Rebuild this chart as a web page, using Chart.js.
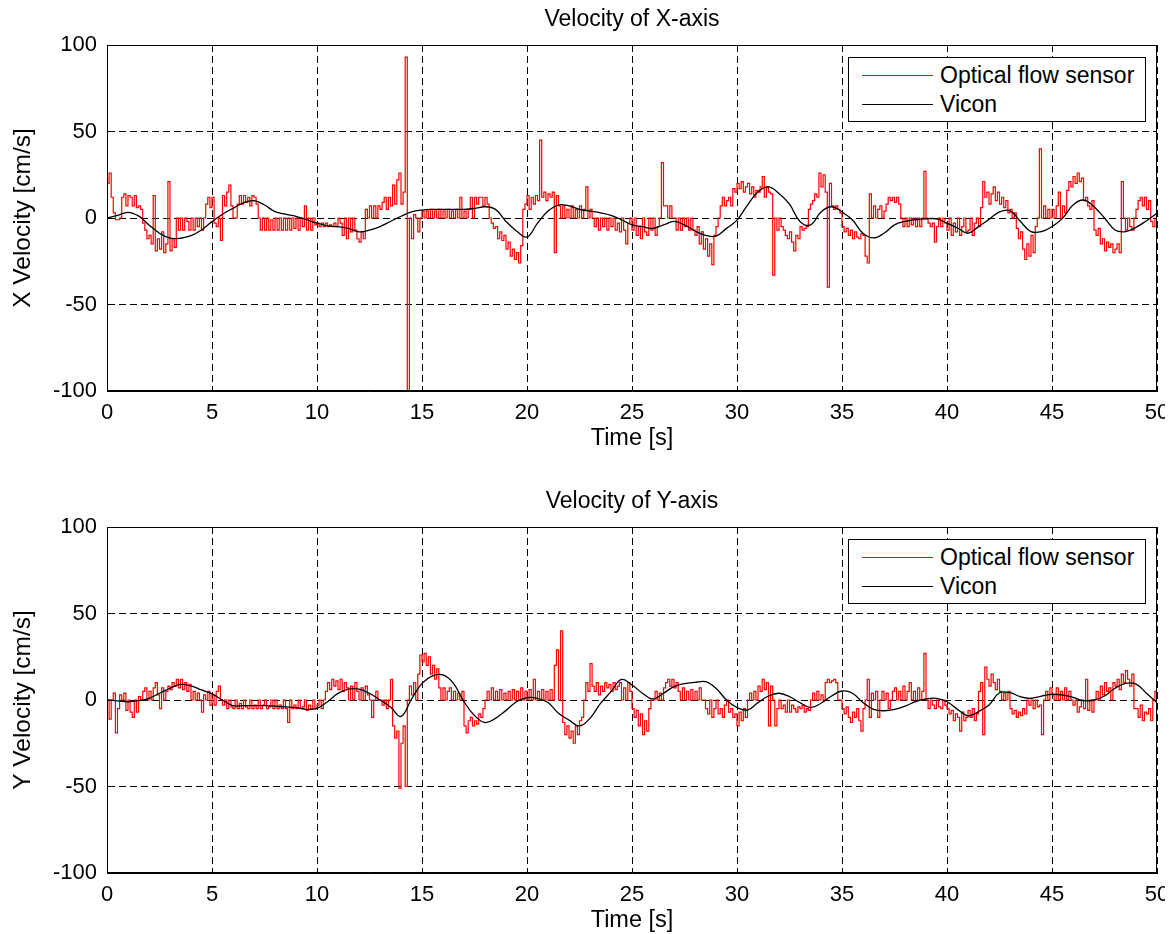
<!DOCTYPE html>
<html><head><meta charset="utf-8">
<script src="https://cdn.jsdelivr.net/npm/chart.js@4.4.0/dist/chart.umd.min.js"></script>
<style>
html,body{margin:0;padding:0;background:#fff;overflow:hidden;width:1174px;height:934px;position:relative}
canvas{position:absolute;left:0}
.ttl{position:absolute;left:332px;width:600px;text-align:center;line-height:26px;font-family:"Liberation Sans",Arial,Helvetica,sans-serif;font-size:23px;color:#000;white-space:nowrap}
.leg{position:absolute;box-sizing:border-box;border:1px solid #000;background:#fff;width:298px;height:65px;font-family:"Liberation Sans",Arial,Helvetica,sans-serif;font-size:23px;color:#000}
.leg .ln{position:absolute;left:13px;width:71px;height:0}
.leg .tx{position:absolute;left:91px;line-height:26px;white-space:nowrap}
</style></head><body>
<canvas id="cx" width="1165" height="482" style="top:0"></canvas>
<canvas id="cy" width="1165" height="482" style="top:482px"></canvas>
<div class="ttl" style="top:5px">Velocity of X-axis</div>
<div class="ttl" style="top:487px">Velocity of Y-axis</div>
<div class="leg" style="left:848px;top:57px">
 <div class="ln" style="top:17px;border-top:1px solid #ff0000"></div><div class="tx" style="top:4px">Optical flow sensor</div>
 <div class="ln" style="top:46px;border-top:1px solid #000"></div><div class="tx" style="top:33px">Vicon</div>
</div>
<div class="leg" style="left:848px;top:539px">
 <div class="ln" style="top:17px;border-top:1px solid #ff0000"></div><div class="tx" style="top:4px">Optical flow sensor</div>
 <div class="ln" style="top:46px;border-top:1px solid #000"></div><div class="tx" style="top:33px">Vicon</div>
</div>
<script>
// sample periods [s]
const dtRed = 0.1;
const dtVicon = 0.5;
const xTicks = [0,5,10,15,20,25,30,35,40,45,50];
const yTicks = [-100,-50,0,50,100];

// X axis: optical flow sensor (every 0.1 s)
const redX = [
20,26,12,3,-1,-1,0,12,14,7,
13,12,7,13,6,7,5,-3,-7,-12,
-10,-15,13,-19,-12,-18,-8,-20,-15,21,
-19,-12,-17,0,-7,0,-7,0,-2,-7,
0,-7,0,-5,0,-7,0,8,12,6,
12,-3,-5,0,-13,13,7,15,19,7,
0,0,8,13,8,13,9,12,7,13,
12,8,0,-7,0,-7,0,-7,-1,-7,
0,-7,0,-7,0,-7,0,-7,0,-6,
0,-7,0,-5,7,-7,0,-7,0,-4,
-3,-5,-3,-5,-3,-5,-4,-5,-3,-5,
0,-3,-10,0,-12,0,-8,0,-7,-12,
-14,-8,-12,5,0,7,0,7,0,7,
5,9,12,5,12,7,19,8,22,26,
8,15,93,-100,0,-12,2,0,-8,0,
4,0,4,0,5,0,4,0,5,0,
4,0,5,0,4,0,5,0,12,0,
4,0,5,12,0,12,8,12,12,7,
12,8,0,-3,-6,-5,-12,-8,-13,-10,
-18,-14,-22,-18,-24,-20,-26,-16,5,8,
13,5,12,8,13,10,45,12,15,10,
14,12,15,-20,13,7,0,7,0,5,
0,7,0,5,0,7,0,5,18,0,
5,0,-5,0,-7,0,-5,0,-7,0,
-5,0,-7,-3,-8,0,-7,-15,-3,0,
-7,0,-10,-5,-12,0,-8,-10,0,-7,
0,-10,-5,0,32,7,7,0,7,0,
0,-7,0,-7,0,-5,0,-7,0,-7,
-10,-5,-15,-8,-18,-12,-22,-15,-27,-10,
-5,0,7,12,7,10,12,7,17,15,
20,17,21,15,18,20,14,18,12,16,
15,18,24,12,18,15,14,-33,0,-7,
0,-5,-7,-10,-12,-8,-14,-19,-10,-12,
-5,-7,-6,-5,5,8,10,14,12,26,
18,25,15,-40,20,7,5,7,5,3,
-5,-8,-6,-10,-7,-12,-8,-11,-12,-9,
-10,-22,-26,14,0,7,0,5,7,0,
4,8,12,10,12,9,12,8,0,-5,
0,-5,0,-4,0,-5,0,-5,0,27,
0,-3,-5,-3,-14,-5,0,-5,0,-3,
-7,0,-10,-3,-8,0,-10,-5,0,-8,
-7,0,-10,-3,0,-5,6,21,12,15,
8,14,18,10,15,8,12,6,10,3,
5,0,3,-6,-12,-8,-18,-24,-15,-22,
-10,-20,-5,0,40,0,7,0,5,0,
5,0,7,15,0,7,3,16,21,18,
24,20,26,21,23,10,12,7,5,10,
-7,-10,-6,-15,-12,-19,-14,-17,-15,-20,
-18,-15,-20,21,0,-7,0,-5,-7,0,
5,10,12,7,12,5,10,-2,-5,0,
-5];

// X axis: Vicon (every 0.5 s)
const viconX = [
0,1.5,3.3,1.2,-4,-8.8,-11.7,-11.7,-10.2,-6.9,
-2.1,2.2,5.6,8.8,10,7.5,3.7,2.2,1,-1,
-3,-4.5,-5,-6,-8,-7,-5,-2,1,3.5,
4.6,5,5,5,5,5.5,6.5,5,-2,-7.5,
-11,-3,4,7.5,7,5,4,3,1.5,-1,
-4,-5,-6,-4,-2,-4,-7.5,-10,-10.5,-6,
-1.2,7.5,15.2,18,14.2,8,-2,-4,3.5,6.5,
3.5,-1.2,-8.8,-11.5,-8.8,-4,-2,-1,-0.5,-0.5,
-3,-5.8,-8.8,-5,-0.8,3.5,4.2,-2,-7.9,-7.9,
-5,-0.2,7.5,10.4,6.5,0,-6.9,-7.9,-5.4,-1.6,
2.7];

// Y axis: optical flow sensor (every 0.1 s)
const redY = [
0,-11,0,4,-19,-5,3,0,4,-6,
0,-7,-10,0,-7,2,0,5,7,0,
5,0,7,10,3,-5,7,0,5,8,
6,10,8,12,7,12,6,10,5,9,
0,5,0,4,0,-7,3,0,5,-3,
3,-3,5,8,0,-3,0,-5,0,-4,
-5,0,-5,-2,-5,0,-4,-5,0,-5,
-3,-5,0,-5,-3,0,-5,-4,0,-5,
0,-5,-3,-5,0,-5,-13,0,-5,-3,
-5,0,-5,-4,0,-6,-3,-5,0,-5,
-3,0,-5,0,5,10,6,12,8,11,
6,12,5,10,7,0,8,0,10,5,
0,7,0,8,3,0,-10,0,5,0,
0,-3,0,-5,0,12,-15,-22,-18,-51,
-25,-15,-50,0,8,3,10,0,15,26,
22,27,20,25,15,20,12,18,7,0,
7,0,5,7,0,5,0,4,0,5,
-15,-19,-12,-10,-15,-12,-14,-8,-10,-5,
0,5,0,7,0,5,0,6,0,4,
0,5,0,6,0,5,0,7,0,5,
0,6,0,12,0,5,0,6,0,5,
0,6,0,20,29,0,40,-13,-20,-15,
-22,-18,-25,-15,-20,-12,-10,0,10,5,
21,8,5,10,3,8,5,10,7,9,
5,10,6,8,10,0,7,0,10,5,
-5,-10,-6,-15,-8,-20,-12,-18,-5,0,
0,5,0,4,0,7,10,12,8,12,
7,10,5,0,7,0,5,0,6,0,
5,0,7,0,0,-5,-8,0,-10,-5,
0,-8,-5,-10,-3,0,-7,-5,-10,-8,
-15,-7,-12,-5,-10,0,4,0,5,0,
8,5,12,6,10,-15,8,0,-15,-5,
0,-5,-3,-7,0,-7,-3,-5,-7,-4,
-5,-3,-7,-5,-6,0,4,0,5,0,
3,0,10,12,10,11,12,10,0,0,
-5,-8,-4,-10,-13,-7,-10,-5,-12,-18,
-5,0,12,-10,4,0,5,-10,0,5,
0,4,-5,0,5,7,0,5,0,8,
0,5,10,0,5,0,7,0,5,27,
0,-5,0,-3,-5,0,-4,-5,0,-3,
-5,-8,-6,-12,-8,-10,-18,-7,-12,-10,
-6,-10,-5,-12,-8,5,10,-20,19,12,
8,15,10,6,12,5,0,4,0,5,
-5,-8,-6,-10,-7,-9,-5,-8,0,-3,
0,-5,0,-4,-3,-20,0,5,0,7,
3,0,7,0,5,0,7,0,5,0,
-3,0,-7,-4,0,-5,12,-6,0,-7,
0,5,0,8,3,10,5,7,0,10,
8,12,6,15,10,17,12,8,15,-5,
-5,-10,-3,-12,-7,-8,-5,-12,0,5,
0];

// Y axis: Vicon (every 0.5 s)
const viconY = [
0,-0.5,-1,-0.4,1,3.9,6.8,9,8.1,5.8,
3.5,0,-3.3,-3.3,-3.3,-3.3,-3.5,-4,-4.4,-5.4,
-4.8,-1,3.8,6.3,6.3,3.8,0,-4,-9.5,0.5,
9.6,14,14.5,9.6,-1,-9,-13,-10.6,-6,-1,
1.4,1,-1.5,-7.7,-11.6,-15,-10.6,-2,4.8,11.9,
8.7,3.9,0.6,3.9,7.7,9.5,10.2,10.6,6.8,0,
-4.4,-5.8,-1.5,2.3,3.9,1.9,-1.5,-4.4,-1.9,2.3,
5.2,3.9,-1.5,-5.4,-6.2,-5.4,-3.5,-1,0.6,1,
-1,-5.4,-9.2,-6.7,-2.9,4.2,4.2,1.9,1,2.3,
3.3,2.9,1.5,-0.4,0,2.3,6.8,9.6,9.2,3.9,
-1.5];

function pts(arr, dt){ return arr.map((v,i)=>({x: Math.round(i*dt*1000)/1000, y: v})); }

Chart.defaults.font.family = '"Liberation Sans", Arial, Helvetica, sans-serif';
Chart.defaults.font.size = 22;
Chart.defaults.color = '#000';

const framePlugin = {
  id:'frame',
  afterDraw(chart){
    const {ctx, chartArea:a} = chart;
    ctx.save();
    ctx.strokeStyle = '#000';
    ctx.lineWidth = 1;
    ctx.strokeRect(Math.round(a.left)+0.5, Math.round(a.top)+0.5, Math.round(a.right-a.left)-1, Math.round(a.bottom-a.top)-1);
    ctx.restore();
  }
};

function makeChart(id, ylabel, red, vicon){
  return new Chart(document.getElementById(id), {
    type:'line',
    data:{datasets:[
      {label:'Vicon', data:pts(vicon, dtVicon), borderColor:'#000000', borderWidth:1.3, pointRadius:0, tension:0.4, order:0, fill:false},
      {label:'Optical flow sensor', data:pts(red, dtRed), borderColor:'#ff0000', borderWidth:1.2, pointRadius:0, stepped:true, order:1, fill:false}
    ]},
    options:{
      responsive:false, animation:false, devicePixelRatio:1,
      layout:{padding:{left:0,right:8,top:45,bottom:0}},
      plugins:{ legend:{display:false}, tooltip:{enabled:false}, title:{display:false} },
      scales:{
        x:{type:'linear', min:0, max:50,
          afterBuildTicks:s=>{ s.ticks = xTicks.map(v=>({value:v})); },
          ticks:{padding:8.5, maxRotation:0, autoSkip:false, color:'#000', font:{size:22}},
          grid:{color:'#000', lineWidth:1, drawTicks:false},
          border:{display:true, color:'#000', width:1, dash:[7,4]},
          title:{display:true, text:'Time [s]', color:'#000', font:{size:23.5}, padding:{top:0, bottom:28.9}},
          afterFit:s=>{ s.height = 91; s.paddingLeft = 0; s.paddingRight = 0; }
        },
        y:{type:'linear', min:-100, max:100,
          afterBuildTicks:s=>{ s.ticks = yTicks.map(v=>({value:v})); },
          ticks:{padding:10, color:'#000', font:{size:22}},
          grid:{color:'#000', lineWidth:1, drawTicks:false},
          border:{display:true, color:'#000', width:1, dash:[7,4]},
          title:{display:true, text:ylabel, color:'#000', font:{size:24.5}, padding:{top:8.3, bottom:0}},
          afterFit:s=>{ s.width = 107; s.paddingTop = 0; s.paddingBottom = 0; }
        }
      }
    },
    plugins:[framePlugin]
  });
}

makeChart('cx', 'X Velocity [cm/s]', redX, viconX);
makeChart('cy', 'Y Velocity [cm/s]', redY, viconY);
</script>
</body></html>
